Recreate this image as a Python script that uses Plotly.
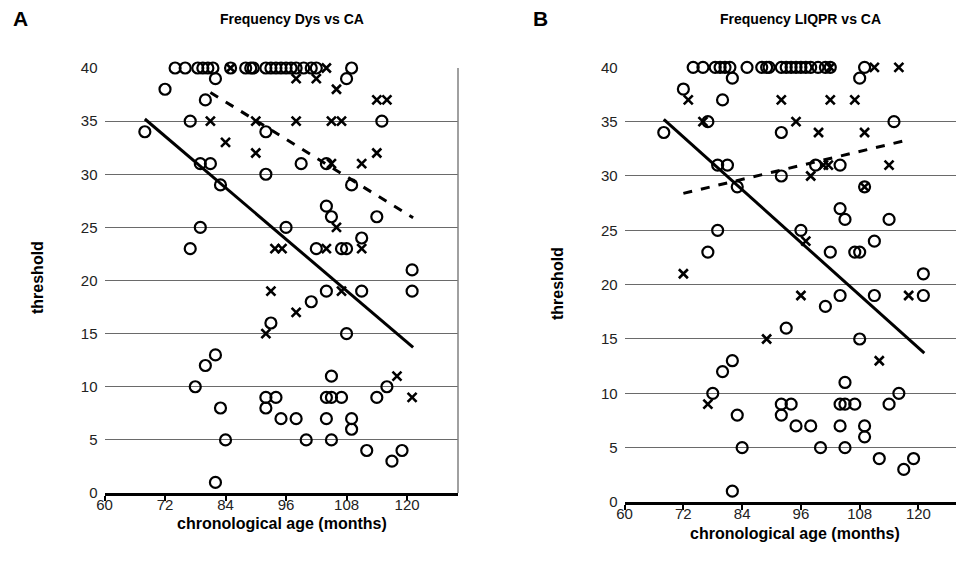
import plotly.graph_objects as go

# --- data ---

# control children (open circles), identical in both panels
ctrl_age = [
    74, 76, 78.5, 79.5, 80.5, 81.5, 85, 88, 89, 89.5, 92, 93, 94, 95, 96, 97, 98, 99.5, 101, 102, 109,
    82, 72, 80, 77, 68, 92, 79, 81, 92, 99, 104, 83, 109, 108, 115,
    104, 105, 114, 79, 96, 77, 102, 107, 108, 111, 121, 121, 104, 111, 101, 93, 108,
    82, 80, 78, 83, 92, 94, 92, 95, 98, 84, 100, 82,
    105, 104, 105, 107, 114, 116, 104, 109, 109, 105, 112, 117, 119,
]
ctrl_thr = [
    40, 40, 40, 40, 40, 40, 40, 40, 40, 40, 40, 40, 40, 40, 40, 40, 40, 40, 40, 40, 40,
    39, 38, 37, 35, 34, 34, 31, 31, 30, 31, 31, 29, 29, 39, 35,
    27, 26, 26, 25, 25, 23, 23, 23, 23, 24, 21, 19, 19, 19, 18, 16, 15,
    13, 12, 10, 8, 9, 9, 8, 7, 7, 5, 5, 1,
    11, 9, 9, 9, 9, 10, 7, 7, 6, 5, 4, 3, 4,
]

# Dys group (crosses, panel A)
dys_age = [85, 98, 102, 104, 106, 81, 90, 98, 105, 107, 114, 116, 84, 90, 111, 114, 105,
           106, 104, 111, 93.8, 95.2, 107, 93, 98, 92, 118, 121]
dys_thr = [40, 39, 39, 40, 38, 35, 35, 35, 35, 35, 37, 37, 33, 32, 31, 32, 31,
           25, 23, 23, 23, 23, 19, 19, 17, 15, 11, 9]

# LIQPR group (crosses, panel B)
liq_age = [102, 111, 116, 73, 92, 102, 107, 76, 95, 99.6, 109, 100.6, 101.6, 114, 98, 109,
           72, 97, 96, 118, 89, 112, 77]
liq_thr = [40, 40, 40, 37, 37, 37, 37, 35, 35, 34, 34, 31, 31, 31, 30, 29,
           21, 24, 19, 19, 15, 13, 9]

# regression lines (end points)
ctrl_fit_x = [68, 121.2]
ctrl_fit_y = [35.2, 13.7]
dys_fit_x = [81, 121.2]
dys_fit_y = [37.7, 25.9]
liq_fit_x = [72, 117.7]
liq_fit_y = [28.4, 33.3]

x_ticks = [60, 72, 84, 96, 108, 120]
y_ticks = [0, 5, 10, 15, 20, 25, 30, 35, 40]

# the page body has an 8px margin, so the figure is made that much smaller
OFF = 8
W, H = 964 - OFF, 567 - OFF
FONT = "Liberation Sans, Arial, sans-serif"


def px_x(p):
    return (p - OFF) / W


def px_y(p):
    return 1 - (p - OFF) / H


fig = go.Figure()


def add_panel(n, cross_age, cross_thr, fit_x, fit_y):
    xa = "x" if n == 1 else f"x{n}"
    ya = "y" if n == 1 else f"y{n}"
    circle = dict(symbol="circle-open", size=11, color="black", line=dict(width=2.2))
    cross = dict(symbol="x-thin-open", size=9, color="black", line=dict(width=2.6))
    fig.add_trace(go.Scatter(x=ctrl_age, y=ctrl_thr, mode="markers", marker=circle,
                             xaxis=xa, yaxis=ya, cliponaxis=False, showlegend=False))
    fig.add_trace(go.Scatter(x=cross_age, y=cross_thr, mode="markers", marker=cross,
                             xaxis=xa, yaxis=ya, cliponaxis=False, showlegend=False))
    fig.add_trace(go.Scatter(x=ctrl_fit_x, y=ctrl_fit_y, mode="lines",
                             line=dict(color="black", width=3),
                             xaxis=xa, yaxis=ya, showlegend=False))
    fig.add_trace(go.Scatter(x=fit_x, y=fit_y, mode="lines",
                             line=dict(color="black", width=3, dash="dash"),
                             xaxis=xa, yaxis=ya, showlegend=False))


add_panel(1, dys_age, dys_thr, dys_fit_x, dys_fit_y)
add_panel(2, liq_age, liq_thr, liq_fit_x, liq_fit_y)

tick_font = dict(family=FONT, size=15, color="#222")
xaxis_common = dict(
    tickvals=x_ticks, ticks="outside", ticklen=5, tickwidth=1.5, tickcolor="black",
    showline=True, linecolor="black", linewidth=3, showgrid=False, zeroline=False,
    tickfont=tick_font, fixedrange=True, automargin=False, ticklabelstandoff=-9,
)
yaxis_common = dict(
    range=[0, 40], tickvals=y_ticks, showline=False, showgrid=True,
    gridcolor="#6a6a6a", gridwidth=1, zeroline=False, ticks="",
    tickfont=tick_font, fixedrange=True, automargin=False, ticklabelstandoff=6,
)

fig.update_layout(
    template="none",
    width=W, height=H, autosize=False,
    margin=dict(l=0, r=0, t=0, b=0, pad=0, autoexpand=False),
    paper_bgcolor="white", plot_bgcolor="white",
    xaxis=dict(xaxis_common, domain=[px_x(104.5), px_x(458)], range=[60, 130.1], anchor="y"),
    yaxis=dict(yaxis_common, domain=[px_y(493), px_y(68)], anchor="x"),
    xaxis2=dict(xaxis_common, domain=[px_x(624.6), 1.0], range=[60, 129.3], anchor="y2"),
    yaxis2=dict(yaxis_common, domain=[px_y(502), px_y(67.3)], anchor="x2"),
)

# right border of panel A plot area
fig.add_shape(type="line", xref="x domain", yref="y domain", x0=1, x1=1, y0=0, y1=1,
              line=dict(color="#808080", width=1.5))

bold = dict(family=FONT, color="black")
texts = [
    ("A", 20, 18, 21),
    ("B", 540, 18, 21),
    ("Frequency Dys vs CA", 292, 19, 14),
    ("Frequency LIQPR vs CA", 800, 19, 14),
    ("chronological age (months)", 282, 523, 16),
    ("chronological age (months)", 795, 533, 16),
]
for t, x, y, s in texts:
    fig.add_annotation(text=f"<b>{t}</b>", x=px_x(x), y=px_y(y), xref="paper", yref="paper",
                       showarrow=False, font=dict(bold, size=s), xanchor="center", yanchor="middle")

for x, y in [(37, 278), (557, 284)]:
    fig.add_annotation(text="<b>threshold</b>", x=px_x(x), y=px_y(y), xref="paper", yref="paper",
                       showarrow=False, textangle=-90, font=dict(bold, size=16),
                       xanchor="center", yanchor="middle")

fig.write_html("out.html")
